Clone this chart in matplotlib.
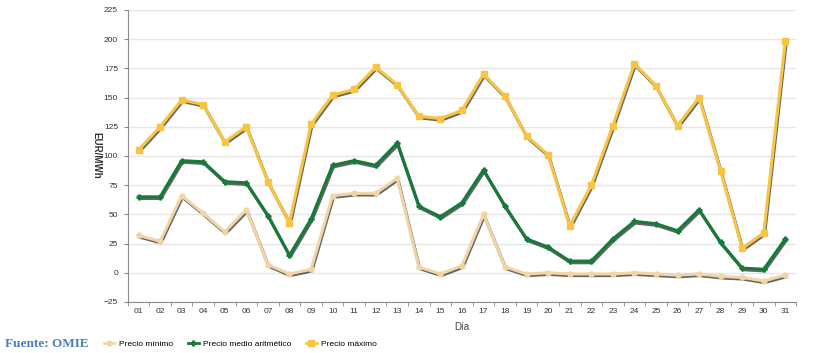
import numpy as np
import matplotlib
matplotlib.use("Agg")
import matplotlib.pyplot as plt
import matplotlib.patheffects as pe
from matplotlib.lines import Line2D

# daily prices, EUR/MWh
dias = ["%02d" % d for d in range(1, 32)]
precio_max = [105, 125, 148, 144, 112, 125, 78, 43, 127, 152, 157, 176, 161, 134, 132,
              139, 170, 151, 117, 101, 40, 75, 126, 179, 160, 126, 150, 87, 21, 34, 198]
precio_medio = [65, 65, 96, 95, 78, 77, 49, 15, 46, 92, 96, 92, 111, 57, 48,
                60, 88, 57, 29, 22, 10, 10, 29, 44, 42, 36, 54, 26, 4, 3, 29]
precio_min = [32, 27, 66, 51, 35, 54, 7, -1, 3, 66, 68, 68, 81, 5, -1,
              6, 50, 5, -1, 0, -1, -1, -1, 0, -1, -2, -1, -3, -4, -7, -2]
yticks = list(range(-25, 226, 25))

c_min = "#f2d5a6"
c_med = "#17793a"
c_max = "#f9c443"

plt.rcParams["font.family"] = ["Liberation Sans", "DejaVu Sans"]

fig = plt.figure(figsize=(8.14, 3.53), dpi=100)
ax = fig.add_axes([0.157, 0.1445, 0.821, 0.8275])

x = np.arange(len(dias))
shadow = [pe.SimpleLineShadow(offset=(0.6, -1.2), shadow_color="#333333", alpha=0.75), pe.Normal()]

series = [(precio_min, c_min, "o", 3.5), (precio_medio, c_med, "P", 3.5), (precio_max, c_max, "s", 4)]
for i, (vals, col, mk, ms) in enumerate(series):
    ax.plot(x, vals, color=col, lw=2.2, zorder=3 + i, path_effects=shadow)
    ax.plot(x, vals, color=col, lw=0, marker=mk, ms=ms, zorder=3.5 + i)

ax.set_xlim(-0.5, len(dias) - 0.5)
ax.set_ylim(-25, 225)
ax.set_yticks(yticks)
ax.set_xticks(x)
ax.set_xticklabels(dias)
ax.set_xticks(np.arange(-0.5, len(dias), 1.0), minor=True)
ax.tick_params(axis="x", which="major", length=0, labelsize=6, colors="#333333", pad=4.5)
ax.tick_params(axis="x", which="minor", length=3, color="#888888", direction="out")
ax.tick_params(axis="y", length=3, color="#888888", labelsize=6, labelcolor="#333333", pad=4)

ax.grid(axis="y", color="#e6e6e6", lw=1)
ax.set_axisbelow(True)
for s in ["top", "right"]:
    ax.spines[s].set_visible(False)
for s in ["left", "bottom"]:
    ax.spines[s].set_color("#8c8c8c")

ax.set_xlabel("Día", fontsize=7, color="#444444", labelpad=5)
fig.text(96 / 814, 1 - 155 / 353, "EUR/MWh", fontsize=7, color="#333333", rotation=-90,
         ha="center", va="center", fontweight="bold")

fig.text(0.006, 0.018, "Fuente: OMIE", fontsize=9.5, color="#4a7dbf", fontweight="bold",
         family="Liberation Serif")

handles = [Line2D([], [], color=col, lw=2, marker=mk, ms=ms) for _, col, mk, ms in series]
fig.legend(handles, ["Precio mínimo", "Precio medio aritmético", "Precio máximo"],
           loc="lower left", bbox_to_anchor=(0.118, -0.008), ncol=3, frameon=False,
           fontsize=6, handlelength=1.3, handletextpad=0.5, columnspacing=1.8)

fig.savefig("out.png", dpi=100)
